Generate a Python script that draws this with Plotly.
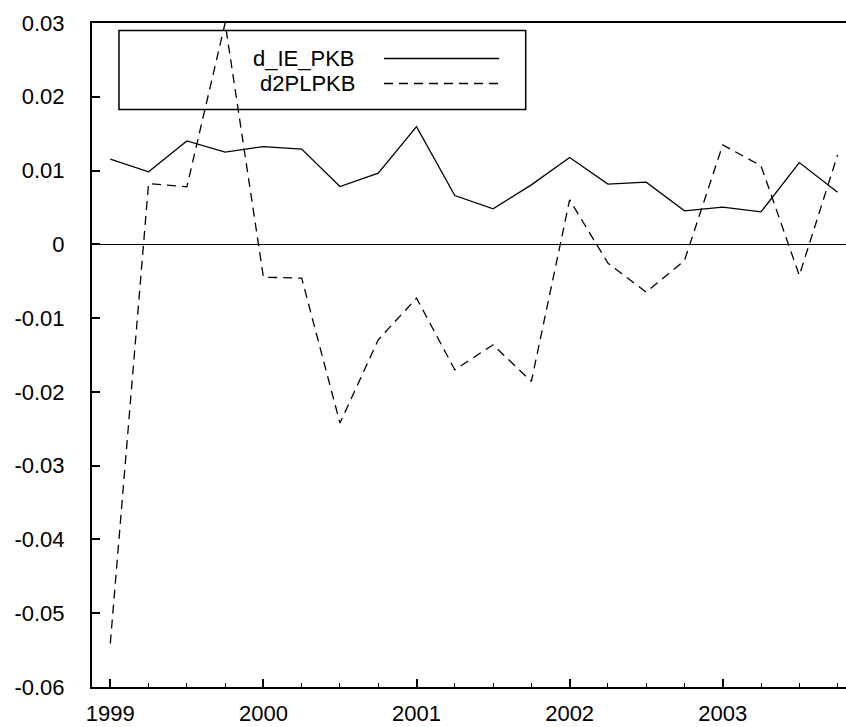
import plotly.graph_objects as go

quarters = [1999 + i * 0.25 for i in range(20)]
d_IE_PKB = [0.01154, 0.00982, 0.01402, 0.01249, 0.01325, 0.0129, 0.00783, 0.00965,
            0.01596, 0.00661, 0.00481, 0.00806, 0.01176, 0.00816, 0.00843, 0.00454,
            0.00504, 0.0044, 0.01108, 0.00707]
d2PLPKB = [-0.0541, 0.00824, 0.00779, 0.0300, -0.00445, -0.00458, -0.02423, -0.01294,
           -0.00729, -0.0170, -0.01362, -0.01859, 0.00603, -0.00255, -0.00648, -0.00219,
           0.01348, 0.01064, -0.00422, 0.01213]
series_names = ["d_IE_PKB", "d2PLPKB"]
year_ticks = [1999, 2000, 2001, 2002, 2003]
y_ticks = [0.03, 0.02, 0.01, 0, -0.01, -0.02, -0.03, -0.04, -0.05, -0.06]

FONT = "Liberation Sans, Arial, sans-serif"

fig = go.Figure()
fig.add_trace(go.Scatter(x=quarters, y=d_IE_PKB, mode="lines", name=series_names[0],
                         line=dict(color="black", width=1.3), showlegend=False))
fig.add_trace(go.Scatter(x=quarters, y=d2PLPKB, mode="lines", name=series_names[1],
                         line=dict(color="black", width=1.3, dash="9px,6px"), showlegend=False))

# manual legend (text left, line sample right)
fig.add_shape(type="rect", xref="paper", yref="paper", x0=0.0358, x1=0.5752, y0=0.8697, y1=0.9887,
              line=dict(color="black", width=1.5), fillcolor="rgba(0,0,0,0)", layer="above")
legend_y = [0.9465, 0.9089]
dashes = ["solid", "9px,6px"]
for name, yy, d in zip(series_names, legend_y, dashes):
    fig.add_annotation(xref="paper", yref="paper", x=0.352, y=yy, text=name, showarrow=False,
                       xanchor="right", yanchor="middle", font=dict(family=FONT, size=22, color="black"))
    fig.add_shape(type="line", xref="paper", yref="paper", x0=0.3873, x1=0.5398, y0=yy, y1=yy,
                  line=dict(color="black", width=1.3, dash=d), layer="above")

fig.update_layout(
    width=846, height=727,
    margin=dict(l=92, r=0, t=23, b=40, autoexpand=False),
    paper_bgcolor="white", plot_bgcolor="white",
    font=dict(family=FONT, size=22, color="black"),
    showlegend=False,
)
fig.update_xaxes(
    range=[1998.8805, 2003.805], tickmode="array", tickvals=year_ticks,
    ticktext=[str(y) for y in year_ticks], automargin=False,
    ticks="inside", ticklen=8, tickwidth=1.5, tickcolor="black",
    showline=True, linecolor="black", linewidth=2, mirror=True,
    showgrid=False, zeroline=False, ticklabelstandoff=6,
    minor=dict(dtick=0.25, tick0=1999, ticks="inside", ticklen=4, tickwidth=1.2,
               tickcolor="black", showgrid=False),
)
fig.update_yaxes(
    range=[-0.06, 0.03], tickmode="array", tickvals=y_ticks,
    ticktext=[("%g" % v) for v in y_ticks], automargin=False,
    ticks="inside", ticklen=8, tickwidth=1.5, tickcolor="black",
    showline=True, linecolor="black", linewidth=2,
    showgrid=False, zeroline=True, zerolinecolor="black", zerolinewidth=1,
    ticklabelstandoff=21,
)

fig.write_html("out.html", config={"displayModeBar": False},
               post_script="document.body.style.margin='0';document.body.style.overflow='hidden';")
